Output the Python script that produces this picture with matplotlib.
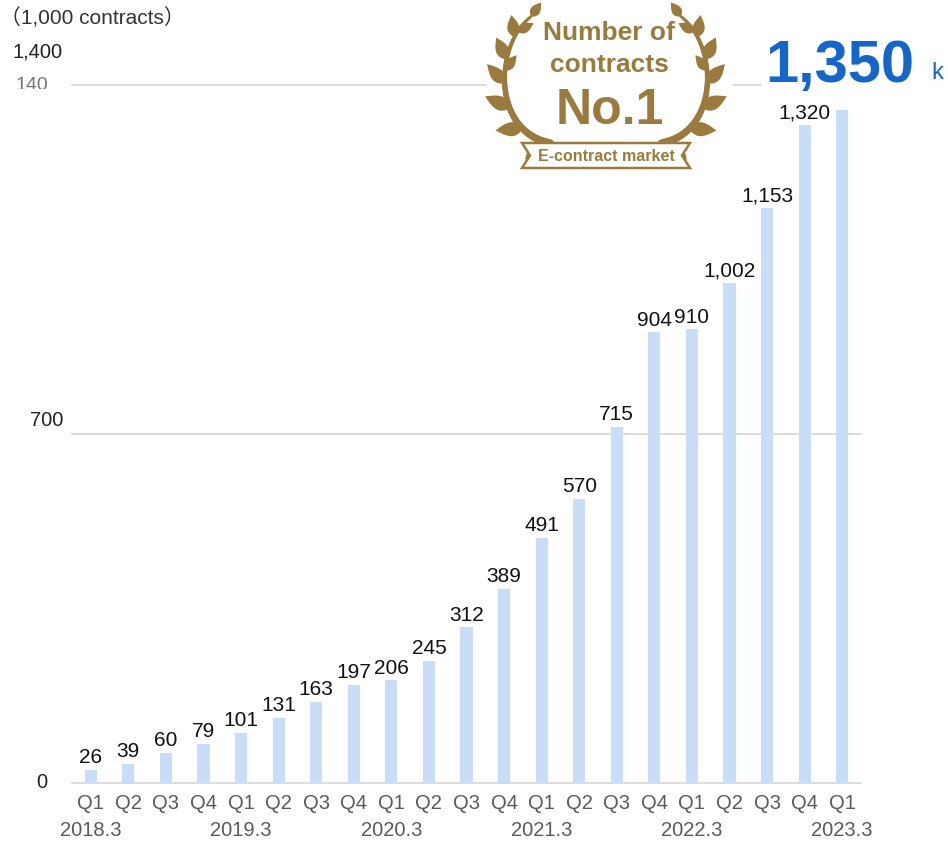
import numpy as np
import matplotlib
matplotlib.use("Agg")
import matplotlib.pyplot as plt
from matplotlib.patches import Polygon, Rectangle
from matplotlib.collections import LineCollection
from matplotlib.transforms import Bbox

plt.rcParams['font.family'] = ['Liberation Sans', 'Noto Sans CJK JP', 'DejaVu Sans']

# contracts per quarter (thousands)
values = [26, 39, 60, 79, 101, 131, 163, 197, 206, 245, 312, 389,
          491, 570, 715, 904, 910, 1002, 1153, 1320, 1350]
quarters = ['Q1', 'Q2', 'Q3', 'Q4'] * 5 + ['Q1']
years = ['2018.3', '2019.3', '2020.3', '2021.3', '2022.3', '2023.3']
year_pos = [0, 4, 8, 12, 16, 20]
grid_vals = [0, 700, 1400]

BAR = '#c8ddf8'
GOLD = '#9b7a3e'
BLUE = '#1466c9'
GREY = '#5a5a5a'

fig = plt.figure(figsize=(9.48, 8.44), dpi=100)
ax = fig.add_axes([72 / 948, 61 / 844, 789 / 948, 698 / 844])

x = np.arange(len(values))
ax.bar(x, values, width=0.32, color=BAR, zorder=2)
for v in grid_vals:
    ax.axhline(v, color='#d9d9d9', lw=1.3, zorder=1, clip_on=False)

# value labels on all bars but the latest one
for i, v in enumerate(values[:-1]):
    ax.annotate(f'{v:,}', (i, v), xytext=(0, 2), textcoords='offset points',
                ha='center', va='bottom', fontsize=15, color='#111111')

ax.set_xlim(-0.5, len(values) - 0.5)
ax.set_ylim(0, 1400)
ax.set_xticks(x, quarters)
ax.set_yticks([])
ax.tick_params(axis='x', length=0, pad=8, labelsize=14.5, labelcolor=GREY)
for s in ax.spines.values():
    s.set_visible(False)
for p, y in zip(year_pos, years):
    ax.text(p, -48 / 698, y, transform=ax.get_xaxis_transform(),
            ha='center', va='center', fontsize=14.5, color=GREY)

# overlay in pixel coordinates for badge and free texts
ov = fig.add_axes([0, 0, 1, 1], zorder=5)
ov.set_xlim(0, 948)
ov.set_ylim(844, 0)
ov.axis('off')
ov.patch.set_alpha(0)

ov.text(0, 18, '（1,000 contracts）', ha='left', va='center', fontsize=15, color='#333333')
ov.text(63, 52, '1,400', ha='right', va='center', fontsize=14.5, color='#222222')
t140 = ov.text(48, 85, '140', ha='right', va='center', fontsize=14, color='#777777')
t140.set_clip_box(Bbox.from_extents(0, 844 - 89, 70, 844 - 70))
t140.set_clip_on(True)
ov.text(63, 421, '700', ha='right', va='center', fontsize=14.5, color='#222222')
ov.text(47, 782, '0', ha='right', va='center', fontsize=14.5, color='#222222')

# badge background hides the top gridline
ov.add_patch(Rectangle((487, 0), 246, 175, fc='white', ec='none'))
ov.add_patch(Rectangle((762, 20), 186, 76, fc='white', ec='none'))


def leaf(bx, by, ux, uy, L, W):
    t = np.linspace(0, 1, 30)
    half = W / 2 * np.sin(np.pi * t ** 0.75)
    nx, ny = -uy, ux
    up = np.c_[bx + t * L * ux + half * nx, by + t * L * uy + half * ny]
    lo = np.c_[bx + t * L * ux - half * nx, by + t * L * uy - half * ny]
    return np.vstack([up, lo[::-1]])


def unit(vx, vy):
    n = np.hypot(vx, vy)
    return vx / n, vy / n


# left laurel stem, bottom to top, smoothed by a cubic fit
ctrl = np.array([(550, 143), (527, 132), (511, 112), (504, 86),
                 (507, 59), (516, 36), (531, 16)], dtype=float)
tc = np.linspace(0, 1, len(ctrl))
fx = np.poly1d(np.polyfit(tc, ctrl[:, 0], 3))
fy = np.poly1d(np.polyfit(tc, ctrl[:, 1], 3))
dfx, dfy = fx.deriv(), fy.deriv()

cx = 606
leaves = [(0.04, 26, 13, 62), (0.20, 27, 14, 50), (0.36, 27, 14, 44),
          (0.52, 26, 13, 40), (0.67, 24, 13, 38), (0.82, 22, 12, 36),
          (0.60, 19, 10, -32), (0.86, 18, 10, -30)]

for side in (1, -1):
    def mx(v):
        return cx + side * (v - cx)

    tt = np.linspace(0, 1, 80)
    pts = np.c_[mx(fx(tt)), fy(tt)]
    segs = np.stack([pts[:-1], pts[1:]], axis=1)
    ov.add_collection(LineCollection(segs, colors=GOLD,
                                     linewidths=np.linspace(5.5, 2, len(segs)),
                                     capstyle='round'))
    for t, L, W, alpha in leaves:
        tx, ty = unit(dfx(t), dfy(t))
        ox, oy = ty, -tx  # outward normal for the left branch
        al = np.radians(abs(alpha))
        sg = 1 if alpha > 0 else -1
        ux, uy = unit(tx * np.cos(al) + sg * ox * np.sin(al),
                      ty * np.cos(al) + sg * oy * np.sin(al))
        ov.add_patch(Polygon(leaf(mx(fx(t)), fy(t), side * ux, uy, L, W),
                             closed=True, fc=GOLD, ec='none'))
    tx, ty = unit(dfx(1), dfy(1))
    ux, uy = unit(tx, ty - 0.5)
    ov.add_patch(Polygon(leaf(mx(fx(1)), fy(1), side * ux, uy, 17, 10),
                         closed=True, fc=GOLD, ec='none'))

ribbon = [(522, 143), (690, 143), (682, 155.5), (690, 168),
          (522, 168), (530, 155.5)]
ov.add_patch(Polygon(ribbon, closed=True, fc='white', ec=GOLD, lw=1.8, zorder=3))
ov.text(606, 156.5, 'E-contract market', ha='center', va='center', fontsize=11.5,
        fontweight='bold', color=GOLD, zorder=4)
ov.text(609, 33, 'Number of', ha='center', va='center', fontsize=19,
        fontweight='bold', color=GOLD)
ov.text(609, 65, 'contracts', ha='center', va='center', fontsize=19,
        fontweight='bold', color=GOLD)
ov.text(610, 124, 'No.1', ha='center', va='baseline', fontsize=36,
        fontweight='bold', color=GOLD)

# latest quarter total
ov.text(840, 82, '1,350', ha='center', va='baseline', fontsize=43,
        fontweight='bold', color=BLUE)
ov.text(931, 79, 'k', ha='left', va='baseline', fontsize=17, color=BLUE)

fig.savefig('out.png', dpi=100)
